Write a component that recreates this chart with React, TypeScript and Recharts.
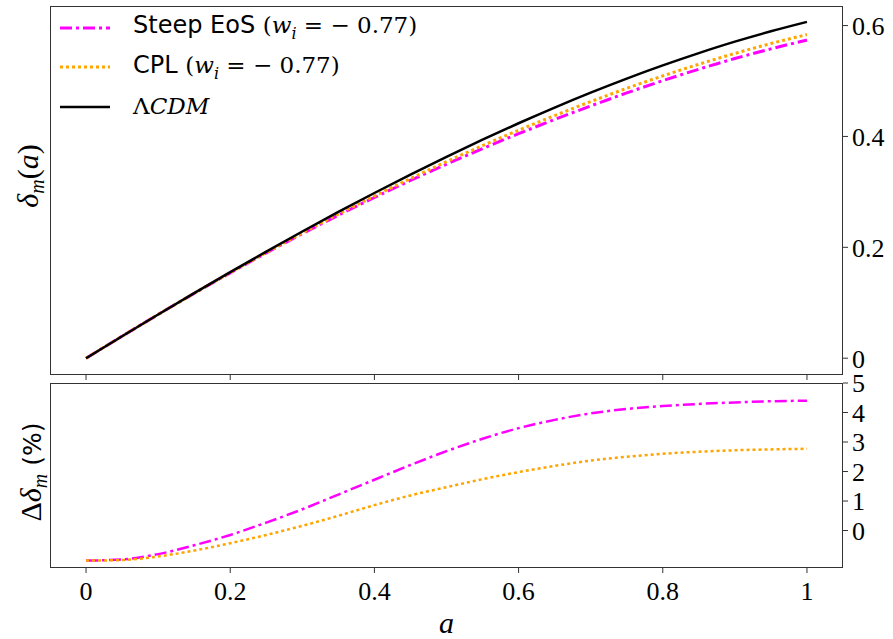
import { LineChart, Line, XAxis, YAxis, Legend } from "recharts";

const aVals = [0, 0.05, 0.1, 0.15, 0.2, 0.25, 0.3, 0.35, 0.4, 0.45, 0.5, 0.55, 0.6, 0.65, 0.7, 0.75, 0.8, 0.85, 0.9, 0.95, 1];

// top panel: growth of matter perturbations
const lcdmTop = [0, 0.0397, 0.0789, 0.1174, 0.1553, 0.1923, 0.2285, 0.2638, 0.298, 0.3313, 0.3633, 0.3942, 0.4238, 0.4521, 0.479, 0.5044, 0.5282, 0.5504, 0.571, 0.5897, 0.6067];
const steepTop = [0, 0.0397, 0.0788, 0.1169, 0.1539, 0.1899, 0.2246, 0.2579, 0.2899, 0.3206, 0.3499, 0.3781, 0.4049, 0.4306, 0.455, 0.4785, 0.5006, 0.5213, 0.5405, 0.558, 0.5739];
const cplTop = [0, 0.0397, 0.0788, 0.1171, 0.1544, 0.1907, 0.2258, 0.2598, 0.2925, 0.324, 0.3544, 0.3835, 0.4112, 0.4377, 0.4628, 0.4867, 0.5092, 0.5302, 0.5497, 0.5676, 0.5838];

// bottom panel: relative difference in %
const steepDiff = [-1.02, -0.98, -0.8, -0.5, -0.15, 0.27, 0.72, 1.22, 1.72, 2.22, 2.69, 3.11, 3.47, 3.75, 3.97, 4.12, 4.22, 4.29, 4.34, 4.38, 4.4];
const cplDiff = [-1.02, -1.0, -0.88, -0.68, -0.43, -0.15, 0.16, 0.5, 0.86, 1.19, 1.47, 1.74, 1.98, 2.19, 2.37, 2.5, 2.6, 2.67, 2.72, 2.75, 2.77];

const xTicks = [0, 0.2, 0.4, 0.6, 0.8, 1];
const topTicks = [0, 0.2, 0.4, 0.6];
const bottomTicks = [0, 1, 2, 3, 4, 5];

const topData = aVals.map((a, i) => ({ a, lcdm: lcdmTop[i], steep: steepTop[i], cpl: cplTop[i] }));
const bottomData = aVals.map((a, i) => ({ a, steep: steepDiff[i], cpl: cplDiff[i] }));

const MAGENTA = "#ff00ff";
const ORANGE = "#ffa500";
const SPINE = "#333";
const serif = "Liberation Serif";
const mathSerif = "DejaVu Serif";
const sans = "DejaVu Sans";

function RightTick(props: any) {
  const { x, y, payload } = props;
  return (
    <text x={x} y={y} dy="0.36em" textAnchor="start" fontFamily={serif} fontSize={26} fill="#000">
      {String(payload.value)}
    </text>
  );
}

function BottomTick(props: any) {
  const { x, y, payload } = props;
  return (
    <text x={x} y={y} dy="0.75em" textAnchor="middle" fontFamily={serif} fontSize={26} fill="#000">
      {String(payload.value)}
    </text>
  );
}

function LegendBox() {
  const row = { display: "flex", alignItems: "center", height: 39.5 } as const;
  const txt = { fontFamily: sans, fontSize: 24, color: "#000", whiteSpace: "nowrap" } as const;
  const math = { fontFamily: mathSerif, fontSize: 23 } as const;
  const sample = (stroke: string, dash: string | undefined, w: number) => (
    <svg width={75} height={10}>
      <line x1={2} y1={5} x2={52} y2={5} stroke={stroke} strokeWidth={w} strokeDasharray={dash} />
    </svg>
  );
  const wi = (
    <span style={math}>
      (<i>w</i>
      <sub style={{ fontSize: 16 }}>
        <i>i</i>
      </sub>{" "}
      = − 0.77)
    </span>
  );
  return (
    <div style={{ lineHeight: 1 }}>
      <div style={row}>
        {sample(MAGENTA, "12 4 3 4", 3)}
        <span style={txt}>Steep EoS {wi}</span>
      </div>
      <div style={row}>
        {sample(ORANGE, "3 3", 3)}
        <span style={txt}>CPL {wi}</span>
      </div>
      <div style={row}>
        {sample("#000", undefined, 2.5)}
        <span style={{ ...txt, ...math }}>
          Λ<i>CDM</i>
        </span>
      </div>
    </div>
  );
}

const frame = (top: number, height: number) => (
  <div
    style={{
      position: "absolute",
      left: 50,
      top,
      width: 793,
      height,
      border: `1px solid ${SPINE}`,
      boxSizing: "border-box",
      pointerEvents: "none",
    }}
  />
);

export default function App() {
  return (
    <div style={{ position: "absolute", left: 0, top: 0, width: 893, height: 639, background: "#fff" }}>
      <div style={{ position: "absolute", left: 0, top: 0 }}>
        <LineChart width={893} height={380} data={topData} margin={{ top: 6, right: 0, left: 50, bottom: 0 }}>
          <XAxis
            dataKey="a"
            type="number"
            domain={[-0.05, 1.05]}
            ticks={xTicks}
            tickFormatter={() => ""}
            height={5}
            tickSize={5}
            axisLine={false}
            tickLine={{ stroke: SPINE }}
          />
          <YAxis
            orientation="right"
            type="number"
            domain={[-0.0303, 0.6353]}
            allowDataOverflow
            ticks={topTicks}
            interval={0}
            width={50}
            tickSize={5}
            tickMargin={4}
            tick={<RightTick />}
            axisLine={false}
            tickLine={{ stroke: SPINE }}
          />
          <Legend
            layout="horizontal"
            verticalAlign="middle"
            content={() => <LegendBox />}
            wrapperStyle={{ left: 58, top: 8, width: "auto", height: "auto" }}
          />
          <Line dataKey="steep" type="monotone" stroke={MAGENTA} strokeWidth={3} strokeDasharray="12 4 3 4" dot={false} isAnimationActive={false} />
          <Line dataKey="cpl" type="monotone" stroke={ORANGE} strokeWidth={3} strokeDasharray="3 3" dot={false} isAnimationActive={false} />
          <Line dataKey="lcdm" type="monotone" stroke="#000" strokeWidth={2.5} dot={false} isAnimationActive={false} />
        </LineChart>
      </div>
      <div style={{ position: "absolute", left: 0, top: 365 }}>
        <LineChart width={893} height={274} data={bottomData} margin={{ top: 18, right: 0, left: 50, bottom: 0 }}>
          <XAxis
            dataKey="a"
            type="number"
            domain={[-0.05, 1.05]}
            ticks={xTicks}
            interval={0}
            height={71}
            tickSize={5}
            tickMargin={7}
            tick={<BottomTick />}
            axisLine={false}
            tickLine={{ stroke: SPINE }}
            label={{ value: "a", position: "insideBottom", offset: 6, style: { fontFamily: serif, fontStyle: "italic", fontSize: 30, fill: "#000" } }}
          />
          <YAxis
            orientation="right"
            type="number"
            domain={[-1.27, 5]}
            allowDataOverflow
            ticks={bottomTicks}
            interval={0}
            width={50}
            tickSize={5}
            tickMargin={4}
            tick={<RightTick />}
            axisLine={false}
            tickLine={{ stroke: SPINE }}
          />
          <Line dataKey="steep" type="monotone" stroke={MAGENTA} strokeWidth={2.5} strokeDasharray="12 4 3 4" dot={false} isAnimationActive={false} />
          <Line dataKey="cpl" type="monotone" stroke={ORANGE} strokeWidth={2.5} strokeDasharray="3 3" dot={false} isAnimationActive={false} />
        </LineChart>
      </div>
      {frame(6, 369)}
      {frame(383, 185)}
      <svg width={50} height={639} style={{ position: "absolute", left: 0, top: 0, pointerEvents: "none" }}>
        <text transform="translate(38,176) rotate(-90)" textAnchor="middle" fontFamily={serif} fontSize={30} fill="#000">
          <tspan fontStyle="italic">δ</tspan>
          <tspan fontStyle="italic" fontSize={20} dy={6}>m</tspan>
          <tspan dy={-6}>(</tspan>
          <tspan fontStyle="italic">a</tspan>
          <tspan>)</tspan>
        </text>
        <text transform="translate(41,472) rotate(-90)" textAnchor="middle" fontFamily={serif} fontSize={30} fill="#000">
          <tspan>Δ</tspan>
          <tspan fontStyle="italic">δ</tspan>
          <tspan fontStyle="italic" fontSize={20} dy={6}>m</tspan>
          <tspan dy={-6} fontFamily={sans} fontSize={25}> (%)</tspan>
        </text>
      </svg>
    </div>
  );
}
